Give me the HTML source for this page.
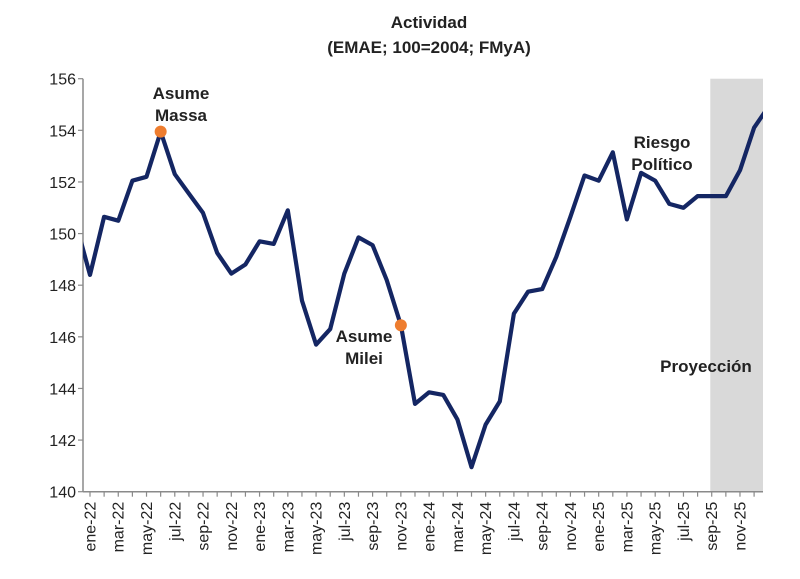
<!DOCTYPE html>
<html><head><meta charset="utf-8"><style>
body{margin:0;background:#fff;}
svg{display:block;font-family:"Liberation Sans",Arial,sans-serif;}
</style></head><body>
<svg id="chart" width="800" height="579">
<text x="429" y="28" text-anchor="middle" font-size="17" font-weight="bold" fill="#222">Actividad</text>
<text x="429" y="53" text-anchor="middle" font-size="17" font-weight="bold" fill="#222">(EMAE; 100=2004; FMyA)</text>
<defs><clipPath id="plotclip"><rect x="83" y="70" width="680" height="430"/></clipPath></defs>
<g id="shade"></g><g id="axes"></g><g id="series" clip-path="url(#plotclip)"></g><g id="marks"></g>
<text x="181" y="99" text-anchor="middle" font-size="17" font-weight="bold" fill="#222"><tspan x="181">Asume</tspan><tspan x="181" dy="22">Massa</tspan></text>
<text x="364" y="342" text-anchor="middle" font-size="17" font-weight="bold" fill="#222"><tspan x="364">Asume</tspan><tspan x="364" dy="22">Milei</tspan></text>
<text x="662" y="148" text-anchor="middle" font-size="17" font-weight="bold" fill="#222"><tspan x="662">Riesgo</tspan><tspan x="662" dy="22">Político</tspan></text>
<text x="706" y="372" text-anchor="middle" font-size="17" font-weight="bold" fill="#222">Proyección</text>
</svg>
<script>
const months=["dic-21","ene-22","feb-22","mar-22","abr-22","may-22","jun-22","jul-22","ago-22","sep-22","oct-22","nov-22","dic-22","ene-23","feb-23","mar-23","abr-23","may-23","jun-23","jul-23","ago-23","sep-23","oct-23","nov-23","dic-23","ene-24","feb-24","mar-24","abr-24","may-24","jun-24","jul-24","ago-24","sep-24","oct-24","nov-24","dic-24","ene-25","feb-25","mar-25","abr-25","may-25","jun-25","jul-25","ago-25","sep-25","oct-25","nov-25","dic-25","ene-26"];
const emae=[150.4,148.4,150.65,150.5,152.05,152.2,153.95,152.3,151.55,150.8,149.25,148.45,148.8,149.7,149.6,150.9,147.4,145.7,146.3,148.45,149.85,149.55,148.2,146.45,143.4,143.85,143.75,142.8,140.95,142.6,143.5,146.9,147.75,147.85,149.1,150.65,152.25,152.05,153.15,150.55,152.35,152.05,151.15,151.0,151.45,151.45,151.45,152.45,154.1,154.9];
const yTicks=[140,142,144,146,148,150,152,154,156];
const tickLabels=["ene-22","mar-22","may-22","jul-22","sep-22","nov-22","ene-23","mar-23","may-23","jul-23","sep-23","nov-23","ene-24","mar-24","may-24","jul-24","sep-24","nov-24","ene-25","mar-25","may-25","jul-25","sep-25","nov-25"];
const eventMonths=["jun-22","nov-23"];
const shadeFrom="sep-25", shadeOffset=-0.1;
const NS="http://www.w3.org/2000/svg";
const x0=90, dx=14.13, yMin=140, yMax=156, yTop=78.7, yBot=491.7, plotL=83, plotR=763;
const xi=i=>x0+(i-1)*dx;
const xm=m=>xi(months.indexOf(m));
const y=v=>yBot-(v-yMin)/(yMax-yMin)*(yBot-yTop);
function mk(tag,attrs,parent){const e=document.createElementNS(NS,tag);for(const k in attrs)e.setAttribute(k,attrs[k]);document.getElementById(parent).appendChild(e);return e;}
const sx=xm(shadeFrom)+shadeOffset*dx;
const sh=mk("rect",{x:sx,y:yTop,width:plotR-sx,height:yBot-yTop,fill:"#d9d9d9"},"shade");


const ya=mk("line",{x1:plotL,y1:yTop,x2:plotL,y2:yBot,stroke:"#8a8a8a","stroke-width":1.5},"axes");


const xa=mk("line",{x1:plotL,y1:yBot,x2:plotR,y2:yBot,stroke:"#8a8a8a","stroke-width":1.5},"axes");


yTicks.forEach(v=>{
 const t=mk("line",{x1:plotL-5,y1:y(v),x2:plotL,y2:y(v),stroke:"#8a8a8a","stroke-width":1.2},"axes");
 
 
 const l=mk("text",{x:plotL-7,y:y(v)+6,"text-anchor":"end","font-size":16,fill:"#222"},"axes");
 l.textContent=v;
 
 
});
for(let i=1;i<months.length-1;i++){
 const t=mk("line",{x1:xi(i),y1:yBot,x2:xi(i),y2:yBot+5,stroke:"#8a8a8a","stroke-width":1.2},"axes");
 
 
}
tickLabels.forEach(m=>{
 const px=xm(m)+5.5, py=yBot+10;
 const l=mk("text",{x:px,y:py,transform:`rotate(-90 ${px} ${py})`,"text-anchor":"end","font-size":16,fill:"#222"},"axes");
 l.textContent=m;
 
 
});
const pts=emae.map((v,i)=>xi(i).toFixed(1)+","+y(v).toFixed(1)).join(" ");
const pl=mk("polyline",{points:pts,fill:"none",stroke:"#142663","stroke-width":4.2,"stroke-linejoin":"round"},"series");


eventMonths.forEach(m=>{
 const i=months.indexOf(m);
 const c=mk("circle",{cx:xi(i),cy:y(emae[i]),r:6,fill:"#ee7d2f"},"marks");
 
 
});
</script>
</body></html>
